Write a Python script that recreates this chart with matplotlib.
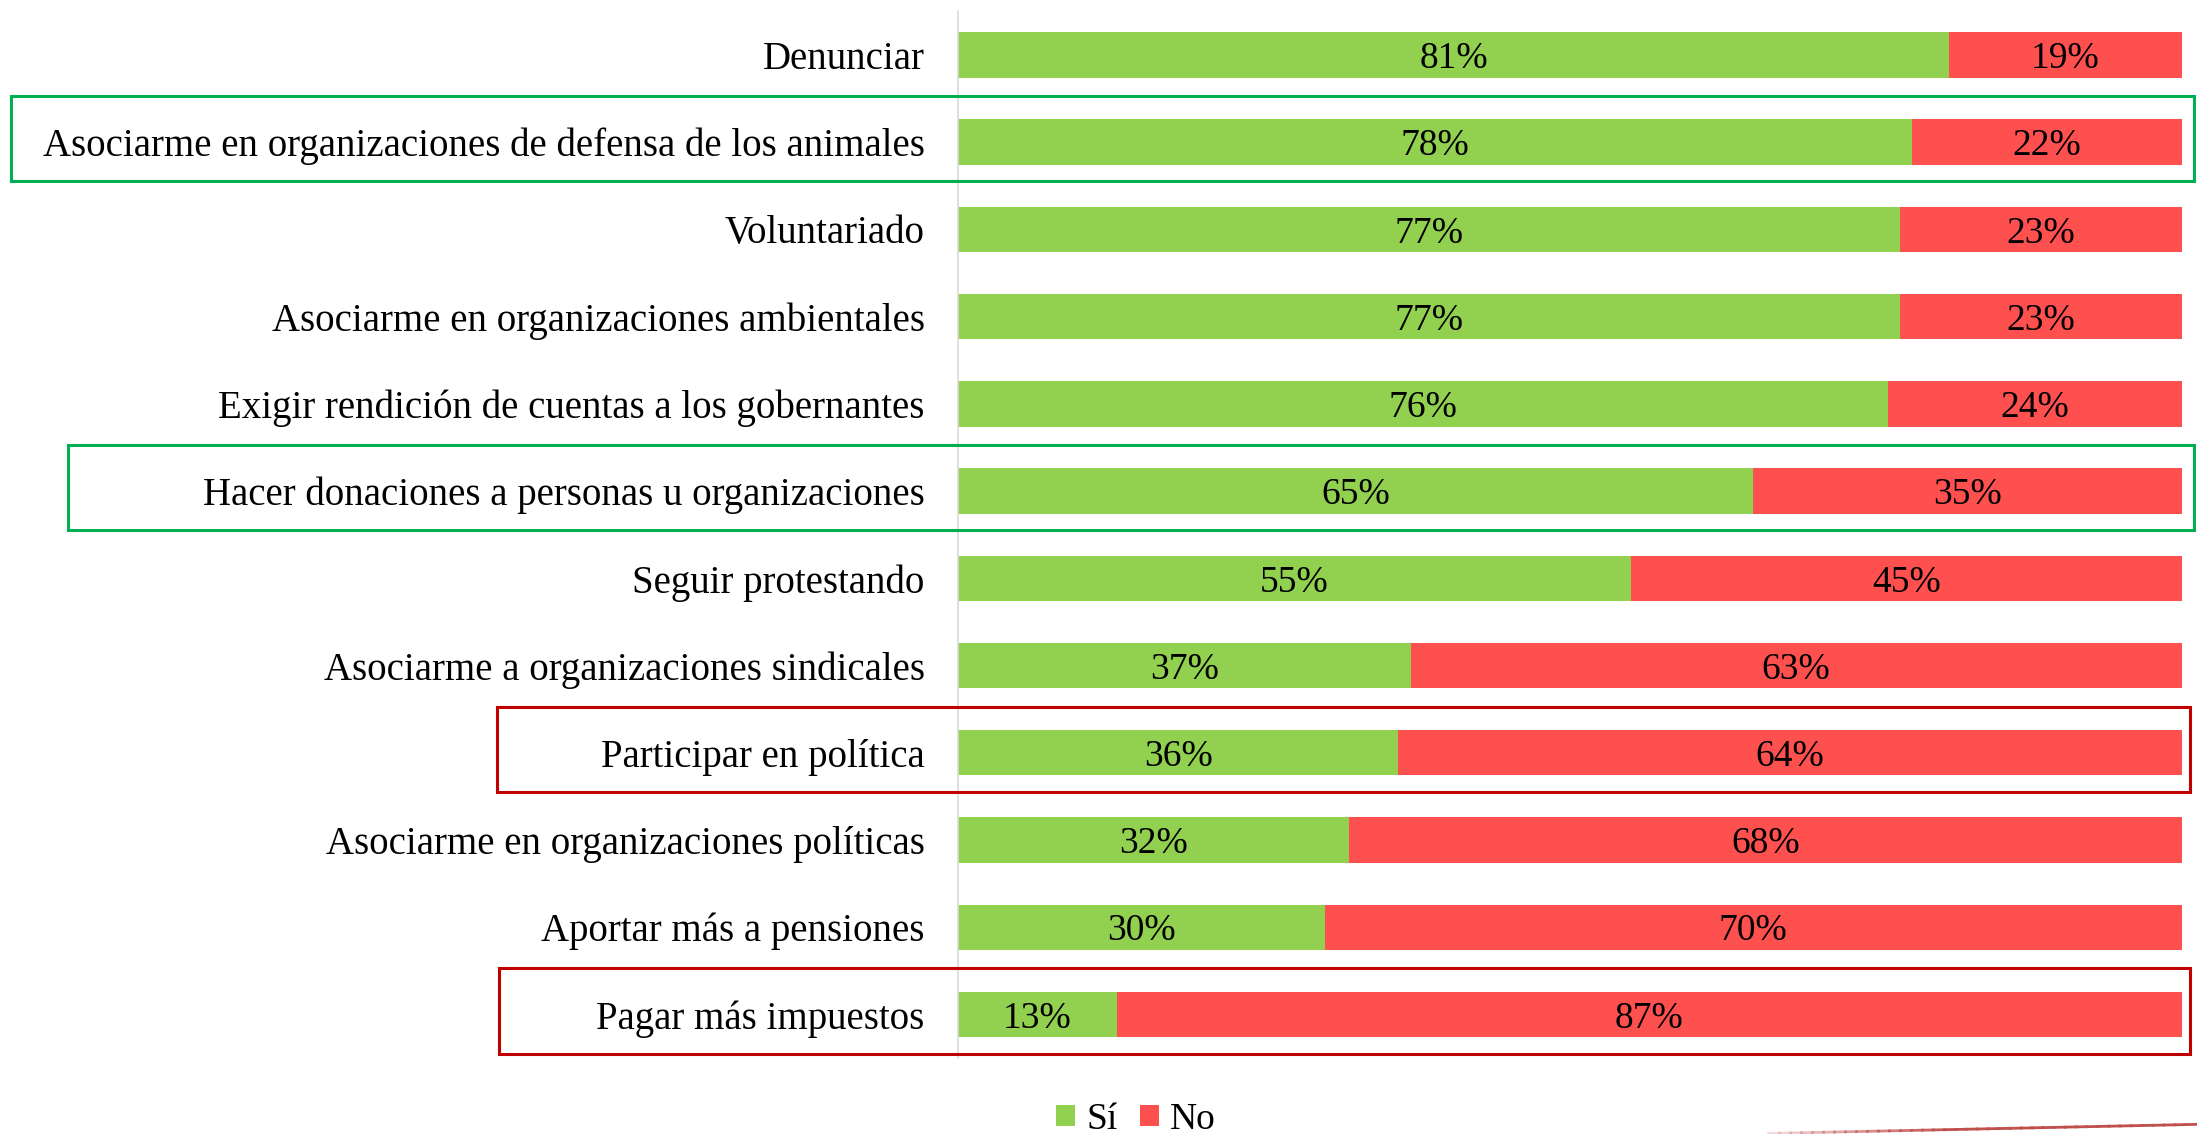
import matplotlib

matplotlib.use("Agg")
import matplotlib.pyplot as plt
import matplotlib.transforms as mtransforms
from matplotlib.patches import Rectangle
import numpy as np


ACCIONES = [
    "Denunciar",
    "Asociarme en organizaciones de defensa de los animales",
    "Voluntariado",
    "Asociarme en organizaciones ambientales",
    "Exigir rendición de cuentas a los gobernantes",
    "Hacer donaciones a personas u organizaciones",
    "Seguir protestando",
    "Asociarme a organizaciones sindicales",
    "Participar en política",
    "Asociarme en organizaciones políticas",
    "Aportar más a pensiones",
    "Pagar más impuestos",
]
SI = [81, 78, 77, 77, 76, 65, 55, 37, 36, 32, 30, 13]
NO = [19, 22, 23, 23, 24, 35, 45, 63, 64, 68, 70, 87]

# filas resaltadas con recuadro: (indice, color, borde izquierdo en fraccion de figura)
RECUADROS = [
    (1, "#00B050", 0.005),
    (5, "#00B050", 0.031),
    (8, "#C00000", 0.226),
    (11, "#C00000", 0.227),
]

VERDE = "#92D050"
ROJO = "#FF5050"
FUENTE = "Liberation Serif"


def main():
    plt.rcParams["font.family"] = [FUENTE, "DejaVu Serif"]

    fig = plt.figure(figsize=(21.97, 11.34), dpi=100)
    ax = fig.add_axes([0.436, 0.067, 0.557, 0.923])

    y = np.arange(len(ACCIONES))
    si = np.array(SI)
    no = np.array(NO)

    barras_si = ax.barh(y, si, height=0.52, color=VERDE, label="Sí")
    barras_no = ax.barh(y, no, left=si, height=0.52, color=ROJO, label="No")

    etiquetas = []
    etiquetas += ax.bar_label(barras_si, labels=[f"{v}%" for v in si], label_type="center", fontsize=27)
    etiquetas += ax.bar_label(barras_no, labels=[f"{v}%" for v in no], label_type="center", fontsize=27)
    for t in etiquetas:
        t.set_verticalalignment("center_baseline")

    ax.set_xlim(0, 100)
    ax.set_ylim(len(ACCIONES) - 0.5, -0.5)
    ax.set_yticks(y)
    ax.set_yticklabels(ACCIONES, fontsize=28)
    ax.tick_params(axis="y", length=0, pad=24)
    for t in ax.get_yticklabels():
        t.set_verticalalignment("center_baseline")
    ax.set_xticks([])

    for lado in ["top", "right", "bottom"]:
        ax.spines[lado].set_visible(False)
    ax.spines["left"].set_color("#D9D9D9")
    ax.spines["left"].set_linewidth(1.2)

    trans = mtransforms.blended_transform_factory(fig.transFigure, ax.transData)
    for fila, color, x0 in RECUADROS:
        derecha = 0.9985 if color == "#00B050" else 0.997
        rect = Rectangle(
            (x0, fila - 0.53),
            derecha - x0,
            0.98,
            transform=trans,
            fill=False,
            edgecolor=color,
            linewidth=2.2,
            clip_on=False,
            zorder=5,
        )
        fig.add_artist(rect)

    fig.legend(
        handles=[barras_si, barras_no],
        loc="center",
        bbox_to_anchor=(0.517, 0.0125),
        ncol=2,
        frameon=False,
        fontsize=27,
        handlelength=0.5,
        handleheight=0.5,
        handletextpad=0.3,
        columnspacing=0.6,
        borderaxespad=0,
    )

    # trazo decorativo en la esquina inferior derecha
    xs = np.linspace(0.805, 1.0, 40)
    ys = 0.0005 + (xs - 0.805) / 0.195 * 0.008
    for i in range(len(xs) - 1):
        alfa = min(1.0, 0.2 + i / 20)
        fig.add_artist(
            plt.Line2D(xs[i:i + 2], ys[i:i + 2], transform=fig.transFigure,
                       color="#C0504D", alpha=alfa, linewidth=2)
        )

    fig.savefig("out.png", dpi=100)
    plt.close(fig)


if __name__ == "__main__":
    main()
